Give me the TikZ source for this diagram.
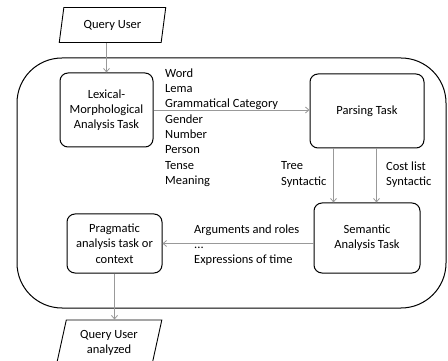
\documentclass[tikz,border=0pt]{standalone}
\usepackage{fontspec}
\setmainfont{Carlito}
\usetikzlibrary{shapes.geometric,arrows.meta}
\begin{document}
\begin{tikzpicture}[x=1pt,y=-1pt, font=\fontsize{12.5}{15.3}\selectfont,
 box/.style={draw, line width=1pt, rounded corners=8pt, align=center, inner sep=0pt},
 para/.style={draw, line width=0.9pt, trapezium, trapezium left angle=75, trapezium right angle=105, trapezium stretches=true, align=center, inner sep=0pt},
 conn/.style={draw=black!40, line width=0.8pt, -{Straight Barb[length=3.5pt,width=6pt]}},
 lbl/.style={inner sep=0pt}]
\useasboundingbox (0,0) rectangle (448,361);
\node[draw, line width=1pt, rounded corners=45pt, minimum width=429pt, minimum height=250pt, inner sep=0pt] (frame) at (231.5,183) {};
\node[para, minimum width=107pt, minimum height=35pt] (qu) at (112.5,25) {Query User};
\node[para, minimum width=106pt, minimum height=46pt] (qua) at (109,343) {Query User\\analyzed};
\node[box, minimum width=93pt, minimum height=74pt] (lex) at (106.5,110) {Lexical-\\Morphological\\Analysis Task};
\node[box, minimum width=114pt, minimum height=74pt] (pars) at (367,111) {Parsing Task};
\node[box, minimum width=106pt, minimum height=70pt] (sem) at (367,238) {Semantic\\Analysis Task};
\node[box, minimum width=95pt, minimum height=59pt] (prag) at (114.5,243.5) {Pragmatic\\analysis task or\\context};
\node[lbl, anchor=north west, align=left] (feat) at (165,68.5) {Word\\Lema\\Grammatical Category\\Gender\\Number\\Person\\Tense\\Meaning};
\node[lbl, anchor=north west, align=left] (tree) at (281,161.5) {Tree\\Syntactic};
\node[lbl, anchor=north west, align=left] (cost) at (386,161.5) {Cost list\\Syntactic};
\node[lbl, anchor=north west, align=left] (args) at (194,224.5) {Arguments and roles\\...\\Expressions of time};
\draw[conn] (qu.south -| lex.north) -- (lex.north);
\draw[conn] (lex.east) -- (pars.west |- lex.east);
\draw[conn] ([xshift=24pt]pars.south west) -- ([xshift=24pt]pars.south west |- sem.north);
\draw[conn] ([xshift=67pt]pars.south west) -- ([xshift=67pt]pars.south west |- sem.north);
\draw[conn] (sem.west |- prag.east) -- (prag.east);
\draw[conn] (prag.south) -- (prag.south |- qua.north);
\end{tikzpicture}
\end{document}
